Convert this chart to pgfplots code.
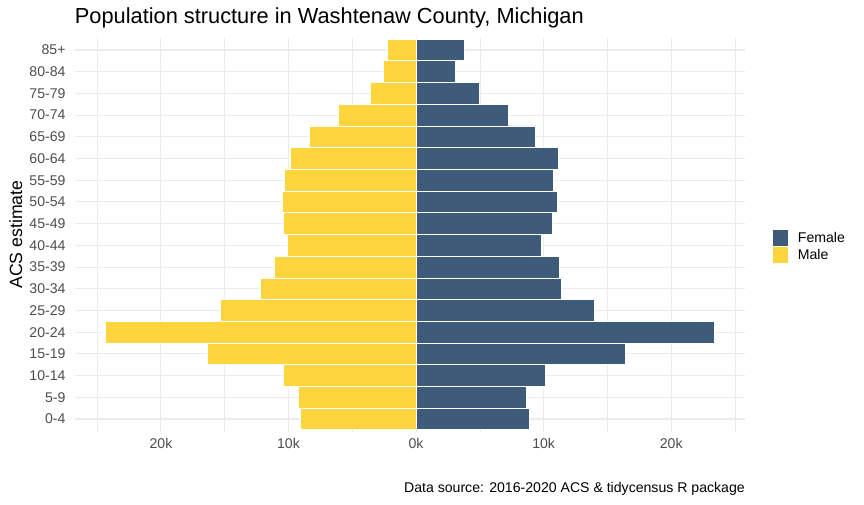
\documentclass[border=0pt]{standalone}
\usepackage{pgfplots}
\usepackage{pgfplotstable}
\pgfplotsset{compat=1.18}
\usepackage{fontspec}
\setmainfont{Liberation Sans}
\definecolor{femc}{RGB}{52,82,114}
\definecolor{malc}{RGB}{254,211,50}
\definecolor{gridc}{RGB}{235,235,235}
\definecolor{tickc}{RGB}{77,77,77}
\pgfplotstableread{
y  age    male    female
1  0-4   -9070    8880
2  5-9   -9230    8650
3  10-14 -10410   10140
4  15-19 -16370   16410
5  20-24 -24370   23390
6  25-29 -15350   13980
7  30-34 -12210   11400
8  35-39 -11110   11240
9  40-44 -10090   9830
10 45-49 -10410   10690
11 50-54 -10490   11080
12 55-59 -10330   10770
13 60-64 -9860    11160
14 65-69 -8370    9360
15 70-74 -6090    7240
16 75-79 -3580    4960
17 80-84 -2560    3080
18 85+   -2250    3790
}\pyr
\begin{document}
\begin{tikzpicture}[x=1pt,y=1pt]
\path[use as bounding box] (0,0) rectangle (864,504);
\begin{axis}[
  at={(74.7pt,72pt)}, anchor=south west,
  scale only axis, width=670.3pt, height=395pt,
  xmin=-26760, xmax=25780, ymin=0.4, ymax=18.6,
  axis line style={draw=none},
  major tick length=0pt, minor tick length=0pt,
  xtick={-20000,-10000,0,10000,20000},
  xticklabels={20k,10k,0k,10k,20k},
  minor xtick={-25000,-15000,-5000,5000,15000,25000},
  ytick={1,...,18},
  yticklabels={0-4,5-9,10-14,15-19,20-24,25-29,30-34,35-39,40-44,45-49,50-54,55-59,60-64,65-69,70-74,75-79,80-84,85+},
  scaled x ticks=false,
  xmajorgrids, ymajorgrids, xminorgrids,
  major grid style={gridc, line width=1.07pt},
  minor grid style={gridc, line width=0.6pt},
  xticklabel style={font=\fontsize{14.1}{15}\selectfont, text=tickc, inner sep=0pt, anchor=north, yshift=-6.5pt},
  yticklabel style={font=\fontsize{14.1}{15}\selectfont, text=tickc, inner sep=0pt, anchor=east, xshift=-9pt},
  xbar, bar width=1, bar shift=0pt,
  legend style={at={(1.0413,0.5122)}, anchor=north west, draw=none, fill=none,
    font=\fontsize{14.1}{15}\selectfont, inner sep=0pt, row sep=1.4pt, column sep=0pt,
    nodes={inner sep=0pt, anchor=base west}},
  legend cell align=left,
  legend image code/.code={\fill[#1, draw=none] (0pt,-3.4pt) rectangle (15pt,12.6pt); \path (24.6pt,0pt);},
]
\addplot[fill=femc, draw=white, line width=0.8pt, fill opacity=0.95] table[x=female, y=y] {\pyr};
\addlegendentry{Female}
\addplot[fill=malc, draw=white, line width=0.8pt, fill opacity=0.95] table[x=male, y=y] {\pyr};
\addlegendentry{Male}
\end{axis}
\node[anchor=base west, inner sep=0pt, font=\fontsize{21.8}{22}\selectfont] at (74.7,480) {Population structure in Washtenaw County, Michigan};
\node[rotate=90, anchor=center, inner sep=0pt, font=\fontsize{17.7}{18}\selectfont] at (15.7,269.5) {ACS estimate};
\node[anchor=base east, inner sep=0pt, font=\fontsize{14.1}{15}\selectfont] at (745,12) {Data source: 2016-2020 ACS \& tidycensus R package};
\end{tikzpicture}
\end{document}
